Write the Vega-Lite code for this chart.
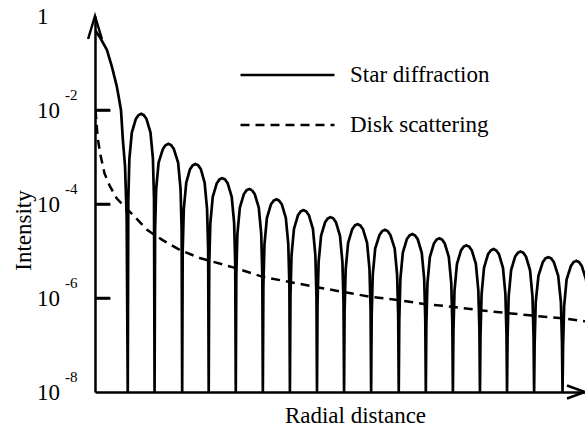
{
  "$schema": "https://vega.github.io/schema/vega-lite/v6.json",
  "autosize": {"type": "none"},
  "padding": {"left": 95, "top": 16, "right": 0, "bottom": 36},
  "width": 490,
  "height": 376,
  "background": "white",
  "config": {
    "view": {"stroke": null},
    "font": "Liberation Serif, Times New Roman, serif",
    "text": {"font": "Liberation Serif, Times New Roman, serif"},
    "axis": {"titleFont": "Liberation Serif, Times New Roman, serif", "labelFont": "Liberation Serif, Times New Roman, serif"},
    "legend": {"labelFont": "Liberation Serif, Times New Roman, serif"}
  },
  "datasets": {
    "star": [
      {"r":0,"I":0.5},{"r":0.18,"I":0.355},{"r":0.44,"I":0.19},{"r":0.63,"I":0.081},{"r":0.81,"I":0.031},{"r":0.96,"I":0.01},{"r":1.03,"I":0.0023},{"r":1.11,"I":0.00063},{"r":1.17,"I":0.00005},{"r":1.21,"I":1e-8},
      {"r":1.23,"I":1.25e-4},{"r":1.27,"I":9.13e-4},{"r":1.36,"I":3.32e-3},{"r":1.51,"I":6.47e-3},{"r":1.61,"I":7.8e-3},{"r":1.705,"I":8.3e-3},{"r":1.8,"I":7.8e-3},{"r":1.9,"I":6.47e-3},{"r":2.05,"I":3.32e-3},{"r":2.14,"I":9.13e-4},{"r":2.18,"I":1.25e-4},{"r":2.2,"I":1e-8},
      {"r":2.22,"I":2.86e-5},{"r":2.26,"I":2.1e-4},{"r":2.35,"I":7.62e-4},{"r":2.51,"I":1.49e-3},{"r":2.61,"I":1.79e-3},{"r":2.71,"I":1.905e-3},{"r":2.81,"I":1.79e-3},{"r":2.91,"I":1.49e-3},{"r":3.07,"I":7.62e-4},{"r":3.16,"I":2.1e-4},{"r":3.2,"I":2.86e-5},{"r":3.22,"I":1e-8},
      {"r":3.24,"I":1.06e-5},{"r":3.28,"I":7.79e-5},{"r":3.37,"I":2.83e-4},{"r":3.51,"I":5.52e-4},{"r":3.61,"I":6.66e-4},{"r":3.71,"I":7.08e-4},{"r":3.81,"I":6.66e-4},{"r":3.91,"I":5.52e-4},{"r":4.05,"I":2.83e-4},{"r":4.14,"I":7.79e-5},{"r":4.18,"I":1.06e-5},{"r":4.2,"I":1e-8},
      {"r":4.22,"I":5.33e-6},{"r":4.26,"I":3.91e-5},{"r":4.35,"I":1.42e-4},{"r":4.5,"I":2.77e-4},{"r":4.6,"I":3.34e-4},{"r":4.7,"I":3.55e-4},{"r":4.8,"I":3.34e-4},{"r":4.9,"I":2.77e-4},{"r":5.05,"I":1.42e-4},{"r":5.14,"I":3.91e-5},{"r":5.18,"I":5.33e-6},{"r":5.2,"I":1e-8},
      {"r":5.22,"I":3.14e-6},{"r":5.26,"I":2.3e-5},{"r":5.35,"I":8.36e-5},{"r":5.5,"I":1.63e-4},{"r":5.6,"I":1.96e-4},{"r":5.7,"I":2.09e-4},{"r":5.8,"I":1.96e-4},{"r":5.9,"I":1.63e-4},{"r":6.05,"I":8.36e-5},{"r":6.14,"I":2.3e-5},{"r":6.18,"I":3.14e-6},{"r":6.2,"I":1e-8},
      {"r":6.22,"I":1.89e-6},{"r":6.26,"I":1.39e-5},{"r":6.35,"I":5.04e-5},{"r":6.5,"I":9.83e-5},{"r":6.6,"I":1.18e-4},{"r":6.7,"I":1.26e-4},{"r":6.8,"I":1.18e-4},{"r":6.9,"I":9.83e-5},{"r":7.05,"I":5.04e-5},{"r":7.14,"I":1.39e-5},{"r":7.18,"I":1.89e-6},{"r":7.2,"I":1e-8},
      {"r":7.22,"I":1.11e-6},{"r":7.26,"I":8.15e-6},{"r":7.35,"I":2.96e-5},{"r":7.5,"I":5.78e-5},{"r":7.6,"I":6.97e-5},{"r":7.7,"I":7.41e-5},{"r":7.8,"I":6.97e-5},{"r":7.9,"I":5.78e-5},{"r":8.05,"I":2.96e-5},{"r":8.14,"I":8.15e-6},{"r":8.18,"I":1.11e-6},{"r":8.2,"I":1e-8},
      {"r":8.22,"I":7.88e-7},{"r":8.26,"I":5.78e-6},{"r":8.35,"I":2.1e-5},{"r":8.5,"I":4.1e-5},{"r":8.6,"I":4.94e-5},{"r":8.7,"I":5.25e-5},{"r":8.8,"I":4.94e-5},{"r":8.9,"I":4.1e-5},{"r":9.05,"I":2.1e-5},{"r":9.14,"I":5.78e-6},{"r":9.18,"I":7.88e-7},{"r":9.2,"I":1e-8},
      {"r":9.22,"I":5.58e-7},{"r":9.26,"I":4.09e-6},{"r":9.35,"I":1.49e-5},{"r":9.5,"I":2.9e-5},{"r":9.6,"I":3.5e-5},{"r":9.7,"I":3.72e-5},{"r":9.8,"I":3.5e-5},{"r":9.9,"I":2.9e-5},{"r":10.05,"I":1.49e-5},{"r":10.14,"I":4.09e-6},{"r":10.18,"I":5.58e-7},{"r":10.2,"I":1e-8},
      {"r":10.22,"I":4.23e-7},{"r":10.26,"I":3.1e-6},{"r":10.35,"I":1.13e-5},{"r":10.51,"I":2.2e-5},{"r":10.61,"I":2.65e-5},{"r":10.71,"I":2.82e-5},{"r":10.81,"I":2.65e-5},{"r":10.91,"I":2.2e-5},{"r":11.07,"I":1.13e-5},{"r":11.16,"I":3.1e-6},{"r":11.2,"I":4.23e-7},{"r":11.22,"I":1e-8},
      {"r":11.24,"I":3.44e-7},{"r":11.28,"I":2.52e-6},{"r":11.37,"I":9.16e-6},{"r":11.52,"I":1.79e-5},{"r":11.62,"I":2.15e-5},{"r":11.72,"I":2.29e-5},{"r":11.82,"I":2.15e-5},{"r":11.92,"I":1.79e-5},{"r":12.07,"I":9.16e-6},{"r":12.16,"I":2.52e-6},{"r":12.2,"I":3.44e-7},{"r":12.22,"I":1e-8},
      {"r":12.24,"I":2.79e-7},{"r":12.28,"I":2.05e-6},{"r":12.37,"I":7.44e-6},{"r":12.52,"I":1.45e-5},{"r":12.62,"I":1.75e-5},{"r":12.72,"I":1.86e-5},{"r":12.82,"I":1.75e-5},{"r":12.92,"I":1.45e-5},{"r":13.07,"I":7.44e-6},{"r":13.16,"I":2.05e-6},{"r":13.2,"I":2.79e-7},{"r":13.22,"I":1e-8},
      {"r":13.24,"I":1.98e-7},{"r":13.28,"I":1.45e-6},{"r":13.37,"I":5.28e-6},{"r":13.52,"I":1.03e-5},{"r":13.62,"I":1.24e-5},{"r":13.72,"I":1.32e-5},{"r":13.82,"I":1.24e-5},{"r":13.92,"I":1.03e-5},{"r":14.07,"I":5.28e-6},{"r":14.16,"I":1.45e-6},{"r":14.2,"I":1.98e-7},{"r":14.22,"I":1e-8},
      {"r":14.24,"I":1.65e-7},{"r":14.28,"I":1.21e-6},{"r":14.37,"I":4.4e-6},{"r":14.52,"I":8.58e-6},{"r":14.62,"I":1.03e-5},{"r":14.72,"I":1.1e-5},{"r":14.82,"I":1.03e-5},{"r":14.92,"I":8.58e-6},{"r":15.07,"I":4.4e-6},{"r":15.16,"I":1.21e-6},{"r":15.2,"I":1.65e-7},{"r":15.22,"I":1e-8},
      {"r":15.24,"I":1.47e-7},{"r":15.28,"I":1.07e-6},{"r":15.37,"I":3.91e-6},{"r":15.52,"I":7.62e-6},{"r":15.62,"I":9.18e-6},{"r":15.72,"I":9.77e-6},{"r":15.82,"I":9.18e-6},{"r":15.92,"I":7.62e-6},{"r":16.07,"I":3.91e-6},{"r":16.16,"I":1.07e-6},{"r":16.2,"I":1.47e-7},{"r":16.22,"I":1e-8},
      {"r":16.24,"I":1.11e-7},{"r":16.28,"I":8.15e-7},{"r":16.38,"I":2.96e-6},{"r":16.54,"I":5.78e-6},{"r":16.64,"I":6.97e-6},{"r":16.745,"I":7.41e-6},{"r":16.85,"I":6.97e-6},{"r":16.95,"I":5.78e-6},{"r":17.11,"I":2.96e-6},{"r":17.21,"I":8.15e-7},{"r":17.25,"I":1.11e-7},{"r":17.27,"I":1e-8},
      {"r":17.29,"I":9.26e-8},{"r":17.33,"I":6.79e-7},{"r":17.42,"I":2.47e-6},{"r":17.58,"I":4.81e-6},{"r":17.68,"I":5.8e-6},{"r":17.78,"I":6.17e-6},{"r":17.88,"I":5.8e-6},{"r":17.98,"I":4.81e-6},{"r":18.14,"I":2.47e-6},{"r":18.23,"I":6.79e-7},{"r":18.27,"I":9.26e-8},{"r":18.29,"I":1e-8}
    ],
    "disk": [
      {"r":0.02,"I":1.0e-2},{"r":0.1,"I":2.5e-3},{"r":0.2,"I":1.12e-3},{"r":0.35,"I":4.5e-4},{"r":0.55,"I":2.4e-4},{"r":0.8,"I":1.32e-4},{"r":1.1,"I":8.7e-5},{"r":1.4,"I":5.9e-5},{"r":1.92,"I":2.82e-5},{"r":2.5,"I":1.7e-5},{"r":3.14,"I":1.05e-5},{"r":3.87,"I":7.1e-6},{"r":5.17,"I":4.37e-6},{"r":6.2,"I":2.82e-6},{"r":7.2,"I":2.19e-6},{"r":8.19,"I":1.7e-6},{"r":9.15,"I":1.35e-6},{"r":10.22,"I":1.05e-6},{"r":11.18,"I":9.1e-7},{"r":12.21,"I":7.4e-7},{"r":13.21,"I":6.5e-7},{"r":14.21,"I":5.5e-7},{"r":15.2,"I":4.8e-7},{"r":16.2,"I":4.2e-7},{"r":17.27,"I":3.7e-7},{"r":18.1,"I":3.2e-7}
    ],
    "ylabels": [
      {"v":1,"base":"1","exp":""},
      {"v":0.01,"base":"10","exp":"-2"},
      {"v":0.0001,"base":"10","exp":"-4"},
      {"v":0.000001,"base":"10","exp":"-6"},
      {"v":1e-8,"base":"10","exp":"-8"}
    ],
    "yticks": [{"v":0.01},{"v":0.0001},{"v":0.000001}],
    "one": [{"k": 1}]
  },
  "layer": [
    {
      "data": {"name": "star"},
      "mark": {"type": "line", "clip": true, "strokeWidth": 2.7, "color": "black"},
      "encoding": {
        "x": {"field": "r", "type": "quantitative",
              "scale": {"domain": [0, 18.1], "nice": false, "zero": false},
              "axis": {"title": "Radial distance", "ticks": false, "labels": false, "grid": false,
                       "domainColor": "black", "domainWidth": 2.5,
                       "titleFont": "Liberation Serif, Times New Roman, serif", "titleFontSize": 23, "titleFontWeight": "normal", "titleColor": "black",
                       "titleX": 260, "titleY": 30, "titleAlign": "center", "titleBaseline": "alphabetic"}},
        "y": {"field": "I", "type": "quantitative",
              "scale": {"type": "log", "domain": [1e-8, 1], "nice": false},
              "axis": {"orient": "right", "offset": -490, "title": "Intensity", "values": [0.01, 0.0001, 0.000001], "labels": false, "grid": false,
                       "tickSize": 15, "tickWidth": 2.5, "tickColor": "black",
                       "domainColor": "black", "domainWidth": 2.5,
                       "titleFont": "Liberation Serif, Times New Roman, serif", "titleFontSize": 23, "titleFontWeight": "normal", "titleColor": "black",
                       "titleX": -72, "titleY": 214, "titleAngle": -90, "titleAlign": "center", "titleBaseline": "middle"}},
        "strokeDash": {"datum": "Star diffraction", "type": "nominal",
                       "scale": {"domain": ["Star diffraction", "Disk scattering"], "range": [[1, 0], [9, 6]]},
                       "legend": {"title": null, "orient": "none", "legendX": 144, "legendY": 34, "padding": 0,
                                  "symbolType": "stroke", "symbolSize": 8836, "symbolStrokeWidth": 2.5, "symbolStrokeColor": "black",
                                  "labelFont": "Liberation Serif, Times New Roman, serif", "labelFontSize": 23, "labelColor": "black", "labelOffset": 14,
                                  "clipHeight": 50, "rowPadding": 0, "labelLimit": 400}}
      }
    },
    {
      "data": {"name": "disk"},
      "mark": {"type": "line", "clip": true, "strokeWidth": 2.5, "color": "black"},
      "encoding": {
        "x": {"field": "r", "type": "quantitative"},
        "y": {"field": "I", "type": "quantitative"},
        "strokeDash": {"datum": "Disk scattering", "type": "nominal"}
      }
    },
    {
      "data": {"name": "yticks"},
      "mark": {"type": "rule", "strokeWidth": 2.5, "color": "black"},
      "encoding": {
        "x": {"datum": 0},
        "x2": {"datum": 0.554},
        "y": {"field": "v", "type": "quantitative"}
      }
    },
    {
      "data": {"name": "ylabels"},
      "mark": {"type": "text", "align": "left", "baseline": "alphabetic", "dx": -58, "dy": 8, "font": "Liberation Serif, Times New Roman, serif", "fontSize": 23, "color": "black"},
      "encoding": {
        "x": {"datum": 0},
        "y": {"field": "v", "type": "quantitative"},
        "text": {"field": "base"}
      }
    },
    {
      "data": {"name": "ylabels"},
      "mark": {"type": "text", "align": "left", "baseline": "alphabetic", "dx": -30, "dy": -10, "font": "Liberation Serif, Times New Roman, serif", "fontSize": 15, "color": "black"},
      "encoding": {
        "x": {"datum": 0},
        "y": {"field": "v", "type": "quantitative"},
        "text": {"field": "exp"}
      }
    },
    {
      "data": {"name": "one"},
      "mark": {"type": "point", "shape": "M-0.3,1L0,0L0.3,1", "size": 2116, "filled": false, "strokeWidth": 2.5, "color": "black", "opacity": 1},
      "encoding": {"x": {"datum": 0}, "y": {"datum": 1}}
    },
    {
      "data": {"name": "one"},
      "mark": {"type": "point", "shape": "M-1,-0.36L0,0L-1,0.36", "size": 1296, "filled": false, "strokeWidth": 2.5, "color": "black", "opacity": 1},
      "encoding": {"x": {"datum": 18.1}, "y": {"datum": 1e-8}}
    }
  ]
}
